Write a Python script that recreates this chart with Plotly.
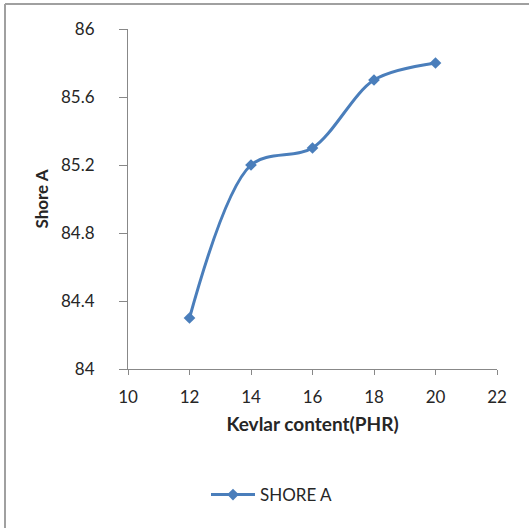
import plotly.graph_objects as go

kevlar = [12, 14, 16, 18, 20]
shore_a = [84.3, 85.2, 85.3, 85.7, 85.8]
series_name = "SHORE A"
x_ticks = [10, 12, 14, 16, 18, 20, 22]
y_ticks = [84, 84.4, 84.8, 85.2, 85.6, 86]
y_tick_text = ["84", "84.4", "84.8", "85.2", "85.6", "86"]

W, H = 529, 528
L, R, T, B = 128, 32, 29, 159
pw, ph = W - L - R, H - T - B

def px(x):
    return (x - L) / pw

def py(y):
    return (H - B - y) / ph

color = "#4A7EBB"
font = "Lato, Open Sans, sans-serif"
txt = "#262626"

fig = go.Figure()
fig.add_trace(go.Scatter(
    x=kevlar, y=shore_a, name=series_name, mode="lines+markers",
    line=dict(color=color, width=3, shape="spline", smoothing=0.9),
    marker=dict(symbol="diamond", size=9, color=color),
))

axis_common = dict(
    showgrid=False, zeroline=False, showline=True, linecolor="#888888", linewidth=1,
    ticks="outside", tickcolor="#888888",
    tickfont=dict(family=font, size=17, color=txt),
)

fig.update_layout(
    width=W, height=H,
    margin=dict(l=L, r=R, t=T, b=B),
    paper_bgcolor="white", plot_bgcolor="white",
    xaxis=dict(range=[10, 22], tickvals=x_ticks, ticktext=[str(v) for v in x_ticks],
               ticklen=5, ticklabelstandoff=8,
               title=dict(text="<b>Kevlar content(PHR)</b>", font=dict(family=font, size=19, color=txt), standoff=11),
               **axis_common),
    yaxis=dict(range=[84, 86], tickvals=y_ticks, ticktext=y_tick_text,
               ticklen=8, ticklabelstandoff=21,
               title=dict(text="<b>Shore A</b>", font=dict(family=font, size=17, color=txt), standoff=8),
               **axis_common),
    showlegend=True,
    legend=dict(orientation="h", x=px(272), xanchor="center", y=py(495), yanchor="middle",
                font=dict(family=font, size=17, color=txt), itemwidth=44),
)

fig.add_shape(type="line", xref="paper", yref="paper", x0=px(5), x1=px(529), y0=py(4), y1=py(4),
              line=dict(color="#A0A0A0", width=2))
fig.add_shape(type="line", xref="paper", yref="paper", x0=px(5), x1=px(5), y0=py(4), y1=py(528),
              line=dict(color="#A0A0A0", width=2))

fig.write_html("out.html")
